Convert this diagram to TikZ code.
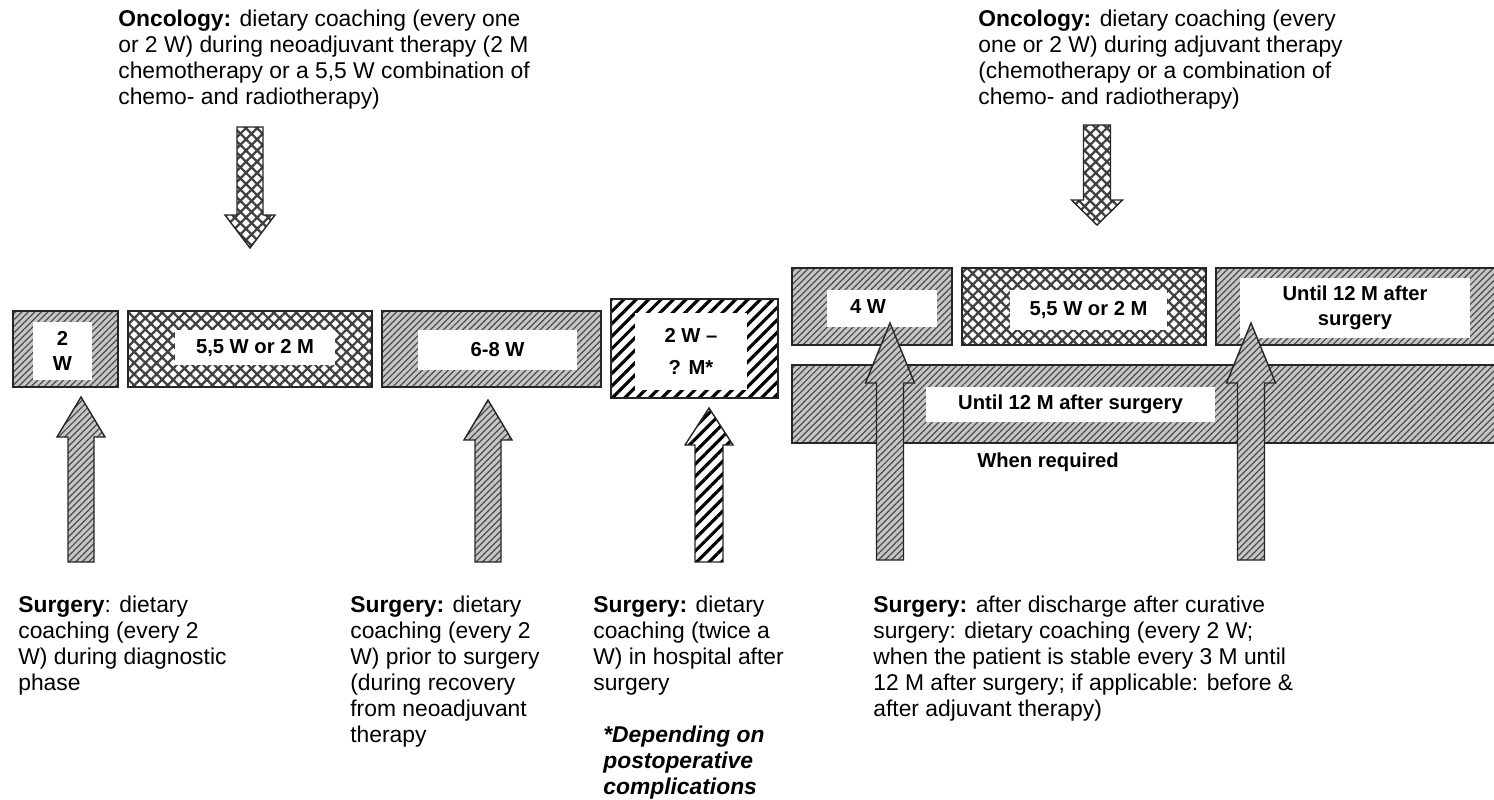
\documentclass[tikz,border=0pt]{standalone}
\usepackage{fontspec}
\setmainfont{Liberation Sans}
\usetikzlibrary{patterns.meta,calc}

% block arrow: [style]{tail}{tip}{shaft half width}{head half width}{head length}
\newcommand{\blockarrow}[6][]{%
  \draw[#1] ($(#2)+(-#4,0)$) -- ($(#3)+(-#4,#6)$) -- ($(#3)+(-#5,#6)$) -- (#3)
    -- ($(#3)+(#5,#6)$) -- ($(#3)+(#4,#6)$) -- ($(#2)+(#4,0)$) -- cycle;}

\begin{document}
\begin{tikzpicture}[x=0.02cm, y=-0.02cm,
  box/.style={draw=black!85, line width=0.8pt, inner sep=0pt},
  fine/.style={box, preaction={fill=gray!45}, pattern={Lines[angle=45,distance=2.6pt,line width=0.7pt]}, pattern color=black!70},
  heavy/.style={box, preaction={fill=white}, pattern={Lines[angle=45,distance=5pt,line width=1.8pt]}, pattern color=black},
  cross/.style={box, preaction={fill=white}, pattern={Hatch[angle=45,distance=4.5pt,line width=1.3pt]}, pattern color=black!75},
  patch/.style={fill=white, inner sep=0pt, font=\bfseries\fontsize{11.5}{14.5}\selectfont, align=center},
  txt/.style={anchor=north west, inner sep=0pt, align=left, font=\fontsize{13}{14.8}\selectfont}
]
\useasboundingbox (0,0) rectangle (1494,799);

% Oncology (top)
\node[txt] (oncneo) at (118,10) {\textbf{Oncology:} dietary coaching (every one\\or 2 W) during neoadjuvant therapy (2 M\\chemotherapy or a 5,5 W combination of\\chemo- and radiotherapy)};
\node[txt] (oncadj) at (978,10) {\textbf{Oncology:} dietary coaching (every\\one or 2 W) during adjuvant therapy\\(chemotherapy or a combination of\\chemo- and radiotherapy)};

% Time line, before surgery
\node[fine, minimum width=2.10cm, minimum height=1.52cm] (diag) at (65.5,349) {};
\node[patch, minimum width=1.18cm, minimum height=1.16cm] (diaglbl) at (62.5,351) {2\\W};
\node[cross, minimum width=4.88cm, minimum height=1.52cm] (neo) at (250,349) {};
\node[patch, minimum width=3.2cm, minimum height=0.7cm] (neolbl) at (255,347.5) {5,5 W or 2 M};
\node[fine, minimum width=4.38cm, minimum height=1.52cm] (recov) at (491.5,349) {};
\node[patch, minimum width=3.18cm, minimum height=0.8cm] (recovlbl) at (497.5,350) {6-8 W};
\node[heavy, minimum width=3.34cm, minimum height=1.98cm] (hosp) at (694.5,348.5) {};
\node[patch, minimum width=2.24cm, minimum height=1.54cm, font=\bfseries\fontsize{11.5}{18}\selectfont] (hosplbl) at (691,351.5) {2 W –\\? M*};

% Time line, after surgery
\node[fine, minimum width=3.2cm, minimum height=1.54cm] (fourw) at (872,306.5) {};
\node[patch, minimum width=2.2cm, minimum height=0.74cm] (fourwlbl) at (882,308.5) {};
\node[patch, fill=none] (fourwtxt) at (868,307) {4 W};
\node[cross, minimum width=4.88cm, minimum height=1.54cm] (adj) at (1084,306.5) {};
\node[patch, minimum width=3.14cm, minimum height=0.8cm] (adjlbl) at (1088.5,310) {5,5 W or 2 M};
\node[fine, minimum width=5.8cm, minimum height=1.54cm] (later) at (1361,306.5) {};
\node[patch, minimum width=4.6cm, minimum height=1.2cm] (laterlbl) at (1355,308) {Until 12 M after\\surgery};
\node[fine, minimum width=14.3cm, minimum height=1.56cm] (bar) at (1149.5,404) {};
\node[patch, minimum width=5.78cm, minimum height=0.7cm] (barlbl) at (1070.5,404.5) {Until 12 M after surgery};
\node[patch, fill=none] (needed) at (1048,462) {When required};

% Surgery (bottom)
\node[txt] (surgdiag) at (18,596) {\textbf{Surgery}: dietary\\coaching (every 2\\W) during diagnostic\\phase};
\node[txt] (surgpre) at (350,596) {\textbf{Surgery:} dietary\\coaching (every 2\\W) prior to surgery\\(during recovery\\from neoadjuvant\\therapy};
\node[txt] (surghosp) at (593,596) {\textbf{Surgery:} dietary\\coaching (twice a\\W) in hospital after\\surgery};
\node[txt, font=\bfseries\itshape\fontsize{13}{14.8}\selectfont] (note) at (603,726) {*Depending on\\postoperative\\complications};
\node[txt] (surgpost) at (873,596) {\textbf{Surgery:} after discharge after curative\\surgery: dietary coaching (every 2 W;\\when the patient is stable every 3 M until\\12 M after surgery; if applicable: before \&\\after adjuvant therapy)};

% Arrow ends
\coordinate (neotail) at (250,127);
\coordinate (neotip) at (250,248);
\coordinate (adjtail) at (1097,125);
\coordinate (adjtip) at (1097,225);
\coordinate (diagtail) at (81,562);
\coordinate (diagtip) at (81,397);
\coordinate (pretail) at (488,562);
\coordinate (pretip) at (488,400);
\coordinate (hosptail) at (709,562);
\coordinate (hosptip) at (709,408);
\coordinate (posttail) at (890,560);
\coordinate (posttip) at (890,323);
\coordinate (latertail) at (1251,560);
\coordinate (latertip) at (1251,323);

% Arrows
\blockarrow[cross]{neotail}{neotip}{13}{25}{-33}
\blockarrow[cross]{adjtail}{adjtip}{13.5}{25.5}{-25}
\blockarrow[fine]{diagtail}{diagtip}{13}{24}{40}
\blockarrow[fine]{pretail}{pretip}{13}{24}{40}
\blockarrow[heavy]{hosptail}{hosptip}{14}{24}{37}
\blockarrow[fine]{posttail}{posttip}{13.5}{24.5}{60}
\blockarrow[fine]{latertail}{latertip}{13.5}{24.5}{60}

\end{tikzpicture}
\end{document}
